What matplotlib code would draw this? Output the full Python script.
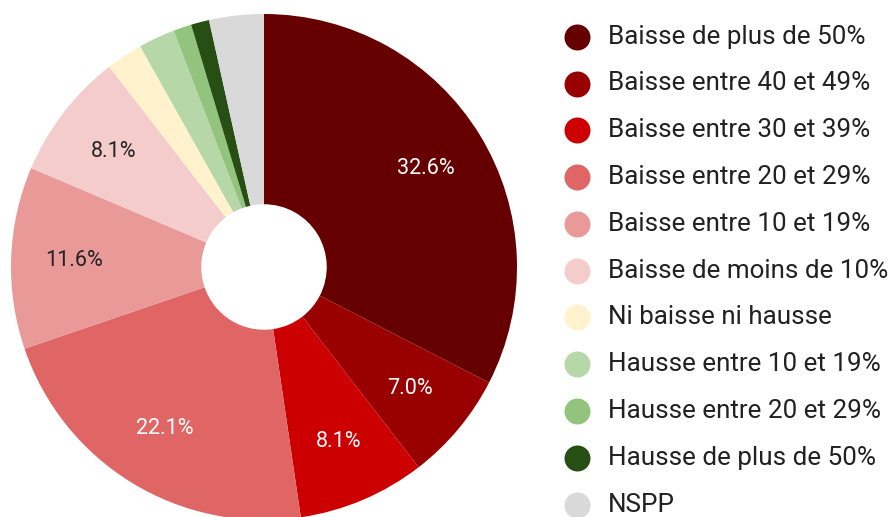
import matplotlib.pyplot as plt

labels = ['Baisse de plus de 50%', 'Baisse entre 40 et 49%', 'Baisse entre 30 et 39%',
          'Baisse entre 20 et 29%', 'Baisse entre 10 et 19%', 'Baisse de moins de 10%',
          'Ni baisse ni hausse', 'Hausse entre 10 et 19%', 'Hausse entre 20 et 29%',
          'Hausse de plus de 50%', 'NSPP']
counts = [28, 6, 7, 19, 10, 7, 2, 2, 1, 1, 3]
colors = ['#660000', '#990000', '#cc0000', '#e06666', '#ea9999', '#f4cccc',
          '#fff2cc', '#b6d7a8', '#93c47d', '#274e13', '#d9d9d9']
# label colour per slice: white on dark slices, dark grey on light ones
pct_colors = ['white', 'white', 'white', 'white', '#222222', '#222222',
              '#222222', '#222222', '#222222', 'white', '#222222']

plt.rcParams['font.family'] = ['Roboto', 'DejaVu Sans']

W, H = 890, 517
fig = plt.figure(figsize=(W / 100, H / 100), dpi=100)

# pie axes: center (264, 267) px, radius 253 px
r = 253
cx, cy = 264, 267
ax = fig.add_axes([(cx - r) / W, (H - cy - r) / H, 2 * r / W, 2 * r / H])
wedges, texts, autotexts = ax.pie(
    counts, colors=colors, startangle=90, counterclock=False,
    wedgeprops=dict(width=0.752, linewidth=0),
    autopct=lambda p: f'{p:.1f}%' if p > 5 else '', pctdistance=0.75,
    textprops=dict(fontsize=15.5))
for t, c in zip(autotexts, pct_colors):
    t.set_color(c)
ax.set_xlim(-1, 1)
ax.set_ylim(-1, 1)
ax.axis('off')

# legend drawn in pixel coordinates
lax = fig.add_axes([0, 0, 1, 1])
lax.set_xlim(0, W)
lax.set_ylim(H, 0)
lax.axis('off')
y0, step = 36.7, 46.8
for i, (lab, col) in enumerate(zip(labels, colors)):
    y = y0 + i * step
    lax.scatter([577], [y], s=350, color=col, linewidths=0, clip_on=False)
    lax.text(608, y, lab, fontsize=18.7, color='#212121', va='center', ha='left')

fig.savefig('out.png', dpi=100)
